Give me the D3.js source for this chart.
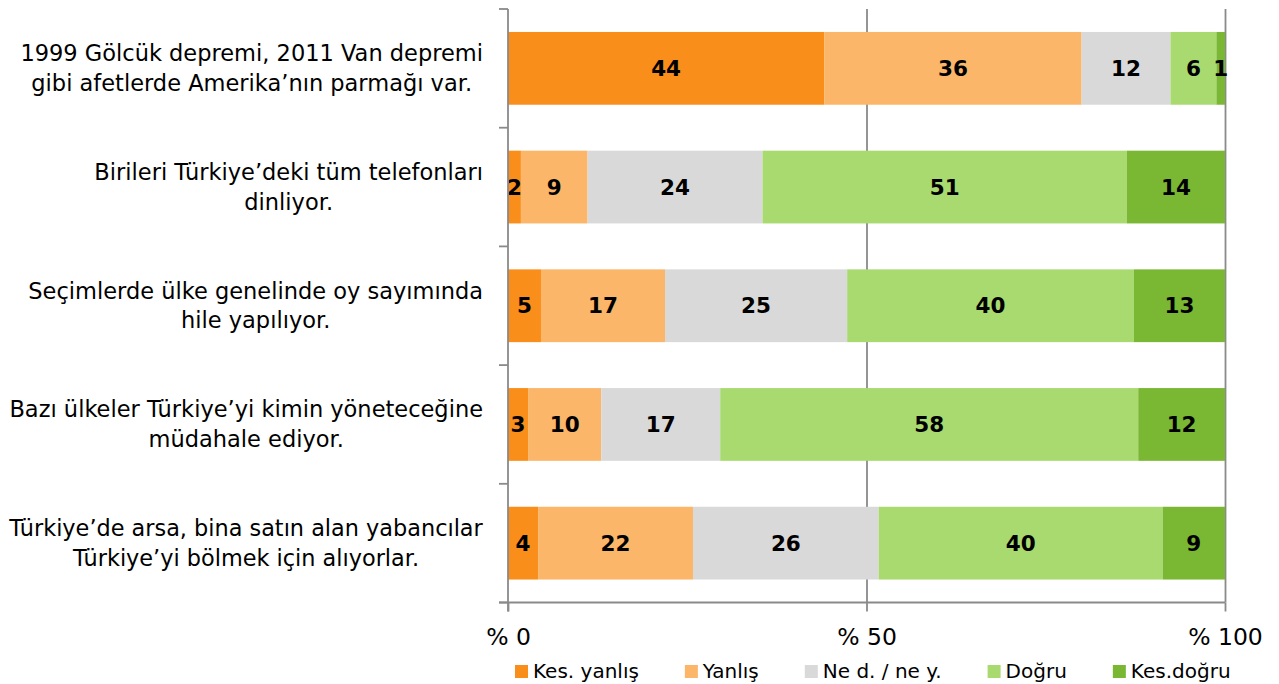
<!DOCTYPE html>
<html>
<head>
<meta charset="utf-8">
<script src="https://cdn.jsdelivr.net/npm/d3@7"></script>
<style>
  body { margin: 0; background: #fff; }
  text { font-family: "DejaVu Sans", sans-serif; fill: #000; }
</style>
</head>
<body>
<svg width="1279" height="684"></svg>
<script>
// statements, each split into two lines as in the original
var categories = [
    ["1999 Gölcük depremi, 2011 Van depremi", "gibi afetlerde Amerika’nın parmağı var."],
    ["Birileri Türkiye’deki tüm telefonları", "dinliyor."],
    ["Seçimlerde ülke genelinde oy sayımında", "hile yapılıyor."],
    ["Bazı ülkeler Türkiye’yi kimin yöneteceğine", "müdahale ediyor."],
    ["Türkiye’de arsa, bina satın alan yabancılar", "Türkiye’yi bölmek için alıyorlar."]
];
var seriesNames = ["Kes. yanlış", "Yanlış", "Ne d. / ne y.", "Doğru", "Kes.doğru"];
var colors = ["#f98e1b", "#fbb669", "#d9d9d9", "#a8da70", "#7ab733"];

// percentages per series (labels are rounded)
var kesYanlis = [44.1, 1.8, 4.6, 2.8, 4.2];
var yanlis    = [35.9, 9.3, 17.3, 10.2, 21.6];
var nedNey    = [12.4, 24.4, 25.4, 16.6, 25.9];
var dogru     = [6.4, 50.8, 40.0, 58.3, 39.6];
var kesDogru  = [1.2, 13.7, 12.7, 12.1, 8.7];

var xTicks = [0, 50, 100];

var series = [kesYanlis, yanlis, nedNey, dogru, kesDogru];

var svg = d3.select("svg");
var pLeft = 508, pRight = 1225, pTop = 9, pBottom = 602.5;
var axisColor = "#8a8a8a";

var x = d3.scaleLinear().domain([0, 100]).range([pLeft, pRight]);
var y = d3.scaleBand()
    .domain(d3.range(categories.length))
    .range([pTop, pBottom])
    .paddingInner(0.387)
    .paddingOuter(0.1935);

// gridlines at 50 and 100
svg.append("g")
    .attr("transform", "translate(0," + pBottom + ")")
    .call(d3.axisBottom(x).tickValues(xTicks.slice(1)).tickSize(-(pBottom - pTop)).tickFormat(""))
    .call(g => g.select(".domain").remove())
    .selectAll("line")
    .attr("stroke", axisColor)
    .attr("stroke-width", 1.8);

// stacked bars
var rows = categories.map((c, i) => {
    var acc = 0;
    return series.map((s, k) => {
        var seg = {row: i, k: k, x0: acc, x1: acc + s[i], v: s[i]};
        acc += s[i];
        return seg;
    });
});

var segs = svg.append("g").selectAll("g")
    .data(rows)
    .join("g")
    .selectAll("g")
    .data(d => d)
    .join("g");

segs.append("rect")
    .attr("x", d => x(d.x0))
    .attr("y", d => y(d.row))
    .attr("width", d => x(d.x1) - x(d.x0))
    .attr("height", y.bandwidth())
    .attr("fill", d => colors[d.k]);

segs.append("text")
    .attr("x", d => (x(d.x0) + x(d.x1)) / 2)
    .attr("y", d => y(d.row) + y.bandwidth() / 2)
    .attr("dy", "0.36em")
    .attr("text-anchor", "middle")
    .style("font-size", "21.5px")
    .style("font-weight", "bold")
    .text(d => Math.round(d.v));

// left axis with ticks between categories
var yAxis = svg.append("g");
yAxis.append("line")
    .attr("x1", pLeft).attr("x2", pLeft)
    .attr("y1", pTop).attr("y2", pBottom + 9)
    .attr("stroke", axisColor).attr("stroke-width", 1.8);
yAxis.selectAll(".tk")
    .data(d3.range(categories.length + 1))
    .join("line")
    .attr("class", "tk")
    .attr("x1", pLeft - 9).attr("x2", pLeft)
    .attr("y1", i => pTop + i * y.step())
    .attr("y2", i => pTop + i * y.step())
    .attr("stroke", axisColor).attr("stroke-width", 1.8);

// bottom axis
var xAxis = svg.append("g")
    .attr("transform", "translate(0," + pBottom + ")")
    .call(d3.axisBottom(x).tickValues(xTicks).tickSize(9).tickPadding(12).tickFormat(d => "% " + d));
xAxis.select(".domain").remove();
xAxis.append("line")
    .attr("x1", pLeft - 9).attr("x2", pRight)
    .attr("stroke", axisColor).attr("stroke-width", 1.8);
xAxis.selectAll(".tick line").attr("stroke", axisColor).attr("stroke-width", 1.8);
xAxis.selectAll(".tick text")
    .attr("fill", "#000")
    .attr("dy", 0)
    .attr("y", 42.5)
    .style("font-family", "'DejaVu Sans', sans-serif")
    .style("font-size", "23.5px");

// category labels, lines centered on each other, block right aligned
var labels = svg.append("g");
var labelRight = 483, labelMaxW = 474;
categories.forEach((lines, i) => {
    var cy = y(i) + y.bandwidth() / 2;
    var g = labels.append("g").style("font-size", "22.5px");
    var ts = lines.map((l, j) => g.append("text")
        .attr("y", cy - 7 + j * 29.5)
        .attr("text-anchor", "middle")
        .text(l));
    var w = d3.max(ts, t => t.node().getComputedTextLength());
    if (w > labelMaxW) {
        // shrink long statements so they stay inside the page
        g.style("font-size", (22.5 * labelMaxW / w) + "px");
        w = labelMaxW;
    }
    ts.forEach(t => t.attr("x", labelRight - w / 2));
});

// legend
var legend = svg.append("g");
var lx = 515;
seriesNames.forEach((n, k) => {
    legend.append("rect")
        .attr("x", lx).attr("y", 665)
        .attr("width", 13).attr("height", 13)
        .attr("fill", colors[k]);
    var t = legend.append("text")
        .attr("x", lx + 18).attr("y", 678)
        .style("font-size", "20px")
        .text(n);
    lx += 18 + t.node().getComputedTextLength() + 46;
});
</script>
</body>
</html>
